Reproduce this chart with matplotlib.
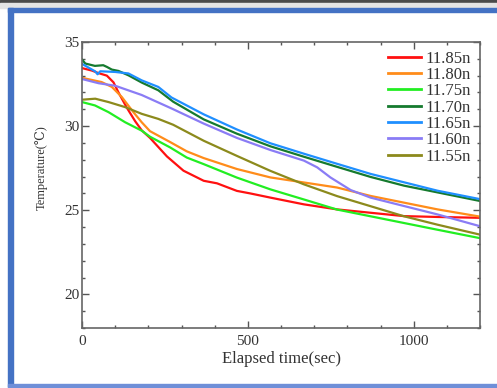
import matplotlib
matplotlib.use("Agg")
import matplotlib.pyplot as plt
from matplotlib.patches import Rectangle
from matplotlib.ticker import MultipleLocator

plt.rcParams['font.family'] = ['Liberation Serif', 'DejaVu Serif']

# Temperature records (elapsed seconds, degrees C) per sensor depth
t_1185 = [0, 30, 50, 75, 95, 110, 135, 160, 180, 205, 256, 306, 367, 407, 467, 507, 568, 669, 769, 870, 971, 1072, 1200]
T_1185 = [33.45, 33.3, 33.15, 33.0, 32.6, 32.0, 31.1, 30.3, 29.75, 29.3, 28.2, 27.35, 26.75, 26.6, 26.15, 26.0, 25.75, 25.35, 25.05, 24.85, 24.65, 24.6, 24.55]

t_1180 = [0, 59, 90, 120, 155, 180, 205, 266, 316, 367, 467, 568, 669, 769, 870, 971, 1072, 1200]
T_1180 = [32.87, 32.62, 32.33, 31.73, 30.83, 30.23, 29.7, 29.05, 28.5, 28.1, 27.45, 26.95, 26.65, 26.35, 25.85, 25.45, 25.05, 24.62]

t_1175 = [0, 39, 80, 130, 180, 205, 266, 316, 367, 467, 568, 669, 769, 870, 971, 1072, 1200]
T_1175 = [31.43, 31.23, 30.83, 30.23, 29.73, 29.37, 28.73, 28.13, 27.74, 26.94, 26.24, 25.64, 25.04, 24.64, 24.24, 23.84, 23.34]

t_1170 = [0, 10, 39, 64, 75, 90, 110, 140, 180, 230, 275, 367, 467, 568, 669, 769, 870, 971, 1072, 1200]
T_1170 = [33.96, 33.72, 33.58, 33.62, 33.52, 33.36, 33.28, 33.02, 32.59, 32.13, 31.45, 30.4, 29.55, 28.8, 28.18, 27.58, 26.98, 26.46, 26.06, 25.55]

t_1165 = [0, 40, 47, 55, 100, 140, 180, 230, 270, 367, 467, 568, 669, 769, 870, 971, 1072, 1200]
T_1165 = [33.7, 33.25, 33.08, 33.26, 33.22, 33.13, 32.72, 32.33, 31.7, 30.7, 29.8, 28.98, 28.36, 27.76, 27.16, 26.66, 26.16, 25.66]

t_1160 = [0, 50, 100, 180, 270, 367, 467, 568, 669, 709, 749, 810, 870, 971, 1072, 1200]
T_1160 = [32.8, 32.55, 32.4, 31.85, 31.05, 30.15, 29.3, 28.58, 27.95, 27.55, 26.95, 26.2, 25.75, 25.25, 24.75, 24.05]

t_1155 = [0, 40, 80, 130, 180, 230, 275, 367, 467, 568, 669, 769, 870, 971, 1072, 1200]
T_1155 = [31.57, 31.63, 31.43, 31.13, 30.73, 30.43, 30.08, 29.13, 28.23, 27.34, 26.54, 25.84, 25.24, 24.64, 24.14, 23.55]

labels = ['11.85n', '11.80n', '11.75n', '11.70n', '11.65n', '11.60n', '11.55n']
colors = ['#ff1010', '#ff8c1a', '#22ee22', '#157a2e', '#1f8fff', '#8a7cf5', '#8c8a1c']
series = [(t_1185, T_1185), (t_1180, T_1180), (t_1175, T_1175), (t_1170, T_1170),
          (t_1165, T_1165), (t_1160, T_1160), (t_1155, T_1155)]

fig = plt.figure(figsize=(4.97, 3.88), dpi=100)
W, H = 497.0, 388.0

# slide-style border around the chart
fig.patches.append(Rectangle((0, 1 - 3 / H), 1, 3 / H, transform=fig.transFigure,
                             color='#4a4a4a', zorder=0))
fig.patches.append(Rectangle((0, 1 - 8 / H), 1, 5 / H, transform=fig.transFigure,
                             color='#e4e4e4', zorder=0))
fig.patches.append(Rectangle((8 / W, 1 - 12 / H), 1, 4 / H, transform=fig.transFigure,
                             color='#4472c4', zorder=0))
fig.patches.append(Rectangle((8 / W, 1 - 387 / H), 5 / W, (387 - 8) / H, transform=fig.transFigure,
                             color='#4472c4', zorder=0))
fig.patches.append(Rectangle((8 / W, 1 - 387 / H), 1, 3 / H, transform=fig.transFigure,
                             color='#6f8fd8', zorder=0))

ax = fig.add_axes([82 / W, 1 - 328 / H, (480 - 82) / W, (328 - 42) / H])

for (t, T), lab, c in zip(series, labels, colors):
    ax.plot(t, T, color=c, lw=1.6, label=lab)

ax.set_xlim(0, 1200)
ax.set_ylim(18, 35)
ax.xaxis.set_major_locator(MultipleLocator(500))
ax.xaxis.set_minor_locator(MultipleLocator(100))
ax.yaxis.set_major_locator(MultipleLocator(5))
ax.yaxis.set_minor_locator(MultipleLocator(1))
ax.tick_params(which='both', direction='in', top=True, right=True, colors='#555555',
               labelcolor='#333333', labelsize=11)
ax.tick_params(which='major', length=5, width=1.0)
ax.tick_params(which='minor', length=2.5, width=1.0)
ax.tick_params(axis='x', pad=5)
ax.tick_params(axis='y', pad=2)
for s in ax.spines.values():
    s.set_color('#666666')
    s.set_linewidth(1.2)

ax.set_xlabel('Elapsed time(sec)', fontsize=12, color='#333333', labelpad=2)
ax.set_ylabel('Temperature(℃)', fontsize=9, color='#333333')
ax.yaxis.set_label_coords(-0.086, 0.56)

leg = ax.legend(loc='upper right', frameon=False, fontsize=12, handlelength=2.0,
                handletextpad=0.3, labelspacing=0.02, borderaxespad=0.12,
                labelcolor='#333333')
for h in leg.legend_handles:
    h.set_linewidth(2.0)

fig.savefig('out.png', dpi=100, facecolor='white')
